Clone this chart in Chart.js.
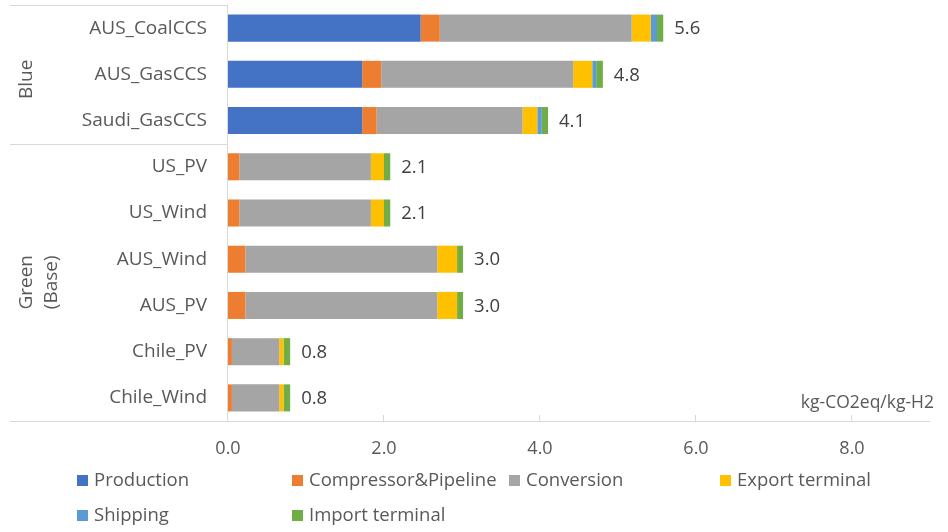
<!DOCTYPE html>
<html>
<head>
<meta charset="utf-8">
<title>Hydrogen supply chain emissions</title>
<script src="https://cdn.jsdelivr.net/npm/chart.js@4.4.0/dist/chart.umd.min.js"></script>
<style>
  html, body { margin: 0; padding: 0; background: #fff; }
  #wrap { width: 948px; height: 532px; position: relative; }
</style>
</head>
<body>
<div id="wrap"><canvas id="chart"></canvas></div>
<script>
// categories, top to bottom
const routes = ['AUS_CoalCCS', 'AUS_GasCCS', 'Saudi_GasCCS', 'US_PV', 'US_Wind', 'AUS_Wind', 'AUS_PV', 'Chile_PV', 'Chile_Wind'];
const groupNames = [['Blue'], ['Green', '(Base)']];
const groupSizes = [3, 6];

// kg-CO2eq per kg-H2, per stage
const production     = [2.47, 1.72, 1.72, 0, 0, 0, 0, 0, 0];
const compressor     = [0.245, 0.245, 0.186, 0.146, 0.146, 0.223, 0.223, 0.05, 0.05];
const conversion     = [2.46, 2.46, 1.87, 1.686, 1.686, 2.46, 2.46, 0.606, 0.606];
const exportTerminal = [0.245, 0.245, 0.19, 0.168, 0.168, 0.254, 0.254, 0.056, 0.056];
const shipping       = [0.08, 0.05, 0.057, 0, 0, 0, 0, 0, 0];
const importTerminal = [0.08, 0.086, 0.08, 0.08, 0.08, 0.077, 0.077, 0.085, 0.085];

const xTicks = [0, 2, 4, 6, 8];
const unitLabel = 'kg-CO2eq/kg-H2';

const FONT = '"Open Sans", sans-serif';
const TEXT = '#595959';
const LINE = '#d9d9d9';

const stages = [
    { label: 'Production', data: production, color: '#4472C4' },
    { label: 'Compressor&Pipeline', data: compressor, color: '#ED7D31' },
    { label: 'Conversion', data: conversion, color: '#A5A5A5' },
    { label: 'Export terminal', data: exportTerminal, color: '#FFC000' },
    { label: 'Shipping', data: shipping, color: '#5B9BD5' },
    { label: 'Import terminal', data: importTerminal, color: '#70AD47' },
];

// frame lines, group labels, tick marks
const frame = {
    id: 'frame',
    beforeDatasetsDraw(chart) {
        const { ctx, chartArea, scales } = chart;
        const y = scales.y, x = scales.x;
        ctx.save();
        ctx.strokeStyle = LINE;
        ctx.lineWidth = 1;
        ctx.beginPath();
        // value axis line stretching under the label column
        ctx.moveTo(10, Math.round(chartArea.bottom) + 0.5);
        ctx.lineTo(930, Math.round(chartArea.bottom) + 0.5);
        // category axis
        ctx.moveTo(Math.round(chartArea.left) - 0.5, chartArea.top);
        ctx.lineTo(Math.round(chartArea.left) - 0.5, chartArea.bottom);
        // group borders
        let idx = 0;
        const edges = [chartArea.top];
        groupSizes.forEach((n, g) => {
            idx += n;
            if (g < groupSizes.length - 1) {
                edges.push((y.getPixelForValue(idx - 1) + y.getPixelForValue(idx)) / 2);
            }
        });
        edges.forEach(e => {
            ctx.moveTo(10, Math.round(e) + 0.5);
            ctx.lineTo(chartArea.left, Math.round(e) + 0.5);
        });
        // small tick marks pointing up
        xTicks.forEach(v => {
            const px = Math.round(x.getPixelForValue(v)) - 0.5;
            ctx.moveTo(px, chartArea.bottom);
            ctx.lineTo(px, chartArea.bottom - 6);
        });
        ctx.stroke();

        // rotated group names
        edges.push(chartArea.bottom);
        ctx.fillStyle = TEXT;
        ctx.font = '19px ' + FONT;
        ctx.textAlign = 'center';
        ctx.textBaseline = 'middle';
        const nudge = [5, 0];
        groupNames.forEach((lines, g) => {
            const mid = (edges[g] + edges[g + 1]) / 2 + nudge[g];
            lines.forEach((txt, k) => {
                ctx.save();
                ctx.translate(27 + k * 25, mid);
                ctx.rotate(-Math.PI / 2);
                ctx.fillText(txt, 0, 0);
                ctx.restore();
            });
        });

        ctx.font = '17.5px ' + FONT;
        ctx.textAlign = 'right';
        ctx.fillText(unitLabel, 934, 403);
        ctx.restore();
    }
};

// totals at bar ends plus the legend rows
const totals = {
    id: 'totals',
    afterDatasetsDraw(chart) {
        const { ctx, scales } = chart;
        ctx.save();
        ctx.font = '18.5px ' + FONT;
        ctx.fillStyle = '#404040';
        ctx.textAlign = 'left';
        ctx.textBaseline = 'middle';
        routes.forEach((r, i) => {
            const sum = stages.reduce((acc, s) => acc + s.data[i], 0);
            ctx.fillText(sum.toFixed(1), scales.x.getPixelForValue(sum) + 11, scales.y.getPixelForValue(i) + 1);
        });

        const cols = [77, 292, 509, 720];
        const rows = [481, 516];
        chart.data.datasets.forEach((ds, i) => {
            const lx = cols[i % 4];
            const ly = rows[Math.floor(i / 4)];
            ctx.fillStyle = ds.backgroundColor;
            ctx.fillRect(lx, ly - 6, 11, 11);
            ctx.fillStyle = TEXT;
            ctx.fillText(ds.label, lx + 17, ly);
        });
        ctx.restore();
    }
};

new Chart(document.getElementById('chart'), {
    type: 'bar',
    data: {
        labels: routes,
        datasets: stages.map(s => ({
            label: s.label,
            data: s.data,
            backgroundColor: s.color,
            borderWidth: 0,
            barPercentage: 0.585,
            categoryPercentage: 1.0
        }))
    },
    options: {
        indexAxis: 'y',
        responsive: true,
        maintainAspectRatio: false,
        animation: false,
        layout: { padding: { left: 0, right: 18, top: 5, bottom: 51 } },
        plugins: {
            legend: { display: false },
            tooltip: { enabled: false }
        },
        scales: {
            x: {
                stacked: true,
                min: 0,
                max: 9,
                afterBuildTicks: scale => { scale.ticks = xTicks.map(v => ({ value: v })); },
                afterFit: scale => { scale.height = 60; },
                grid: { display: false, drawTicks: false },
                border: { display: false },
                ticks: {
                    color: TEXT,
                    font: { family: FONT, size: 18 },
                    padding: 17,
                    callback: v => Number(v).toFixed(1)
                }
            },
            y: {
                stacked: true,
                afterFit: scale => {
                    scale.width = 228;
                    scale.paddingTop = 0;
                    scale.paddingBottom = 0;
                },
                grid: { display: false, drawTicks: false },
                border: { display: false },
                ticks: {
                    color: TEXT,
                    font: { family: FONT, size: 19 },
                    padding: 21,
                    crossAlign: 'near'
                }
            }
        }
    },
    plugins: [frame, totals]
});
</script>
</body>
</html>
